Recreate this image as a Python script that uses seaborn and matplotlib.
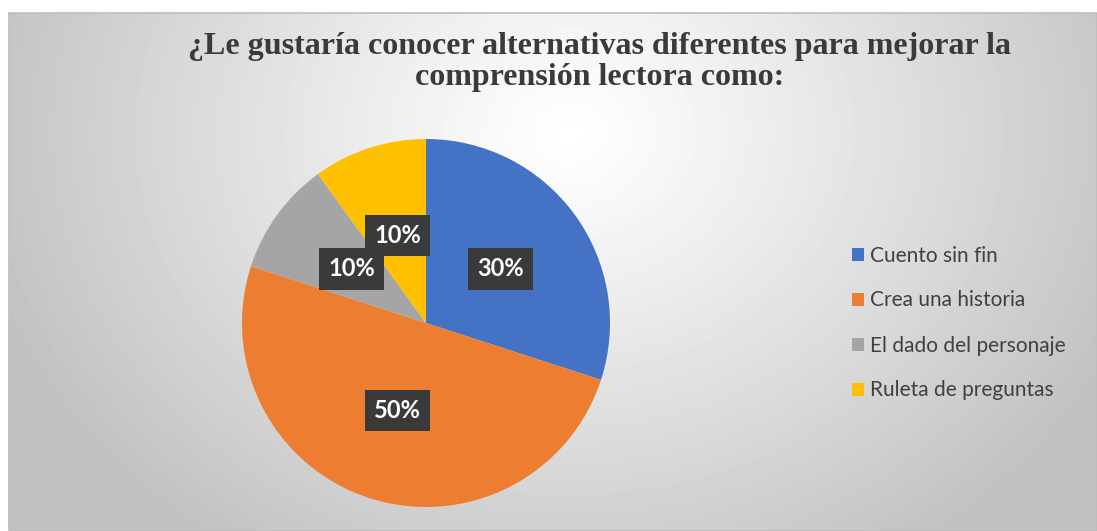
import numpy as np
import seaborn as sns
import matplotlib.pyplot as plt
from matplotlib.patches import Rectangle

# datos de la encuesta
categorias = ['Cuento sin fin', 'Crea una historia', 'El dado del personaje', 'Ruleta de preguntas']
porcentajes = [30, 50, 10, 10]
colores = ['#4472C4', '#ED7D31', '#A5A5A5', '#FFC000']
titulo = '¿Le gustaría conocer alternativas diferentes para mejorar la\ncomprensión lectora como:'

sns.set_theme(style='white')
plt.rcParams['font.family'] = ['Lato', 'DejaVu Sans']

fig = plt.figure(figsize=(10.97, 5.31), dpi=100)
fig.patch.set_facecolor('white')

# fondo con degradado radial
W, H = 1097, 531
x0, y0 = 9, 13
bg = fig.add_axes([x0 / W, 0, 1 - x0 / W, (H - y0) / H])
yy, xx = np.mgrid[0:H - y0, 0:W - x0]
r = np.sqrt(((xx - 560) / 600.0) ** 2 + ((yy - 120) / 500.0) ** 2)
r = np.clip(r, 0, 1)
val = 1.0 - 0.24 * r ** 1.1
bg.imshow(val, cmap='gray', vmin=0, vmax=1, aspect='auto', interpolation='bilinear')
bg.set_axis_off()
fig.add_artist(Rectangle((x0 / W, 0), 1 - x0 / W, (H - y0) / H, transform=fig.transFigure,
                         fill=False, edgecolor='#bdbdbd', linewidth=1.2))

# titulo
fig.text(600 / W, 1 - 62 / H, titulo, ha='center', va='center', fontsize=23,
         fontweight='bold', family='Liberation Serif', color='#3a3a3a', linespacing=1.08)

# pastel
cx, cy, rad = 426, 323, 184
ax = fig.add_axes([(cx - rad) / W, (H - cy - rad) / H, 2 * rad / W, 2 * rad / H])
wedges, textos, autotextos = ax.pie(
    porcentajes, colors=sns.color_palette(colores), startangle=90, counterclock=False,
    autopct='%1.0f%%', pctdistance=0.5, wedgeprops=dict(linewidth=0),
    textprops=dict(color='white', fontsize=17, fontweight='bold'))
for t in autotextos:
    t.set_bbox(dict(boxstyle='square,pad=0.4', facecolor='#3a3a3a', edgecolor='none'))
ax.set_aspect('equal')
ax.set_xlim(-1, 1)
ax.set_ylim(-1, 1)
ax.set_axis_off()

# leyenda
leg = fig.legend(wedges, categorias, loc='center left', bbox_to_anchor=(833 / W, 1 - 323 / H),
                 frameon=False, fontsize=15, handlelength=0.6, handleheight=0.6,
                 handletextpad=0.3, labelspacing=1.2)
for t in leg.get_texts():
    t.set_color('#404040')

plt.savefig('out.png', dpi=100)
